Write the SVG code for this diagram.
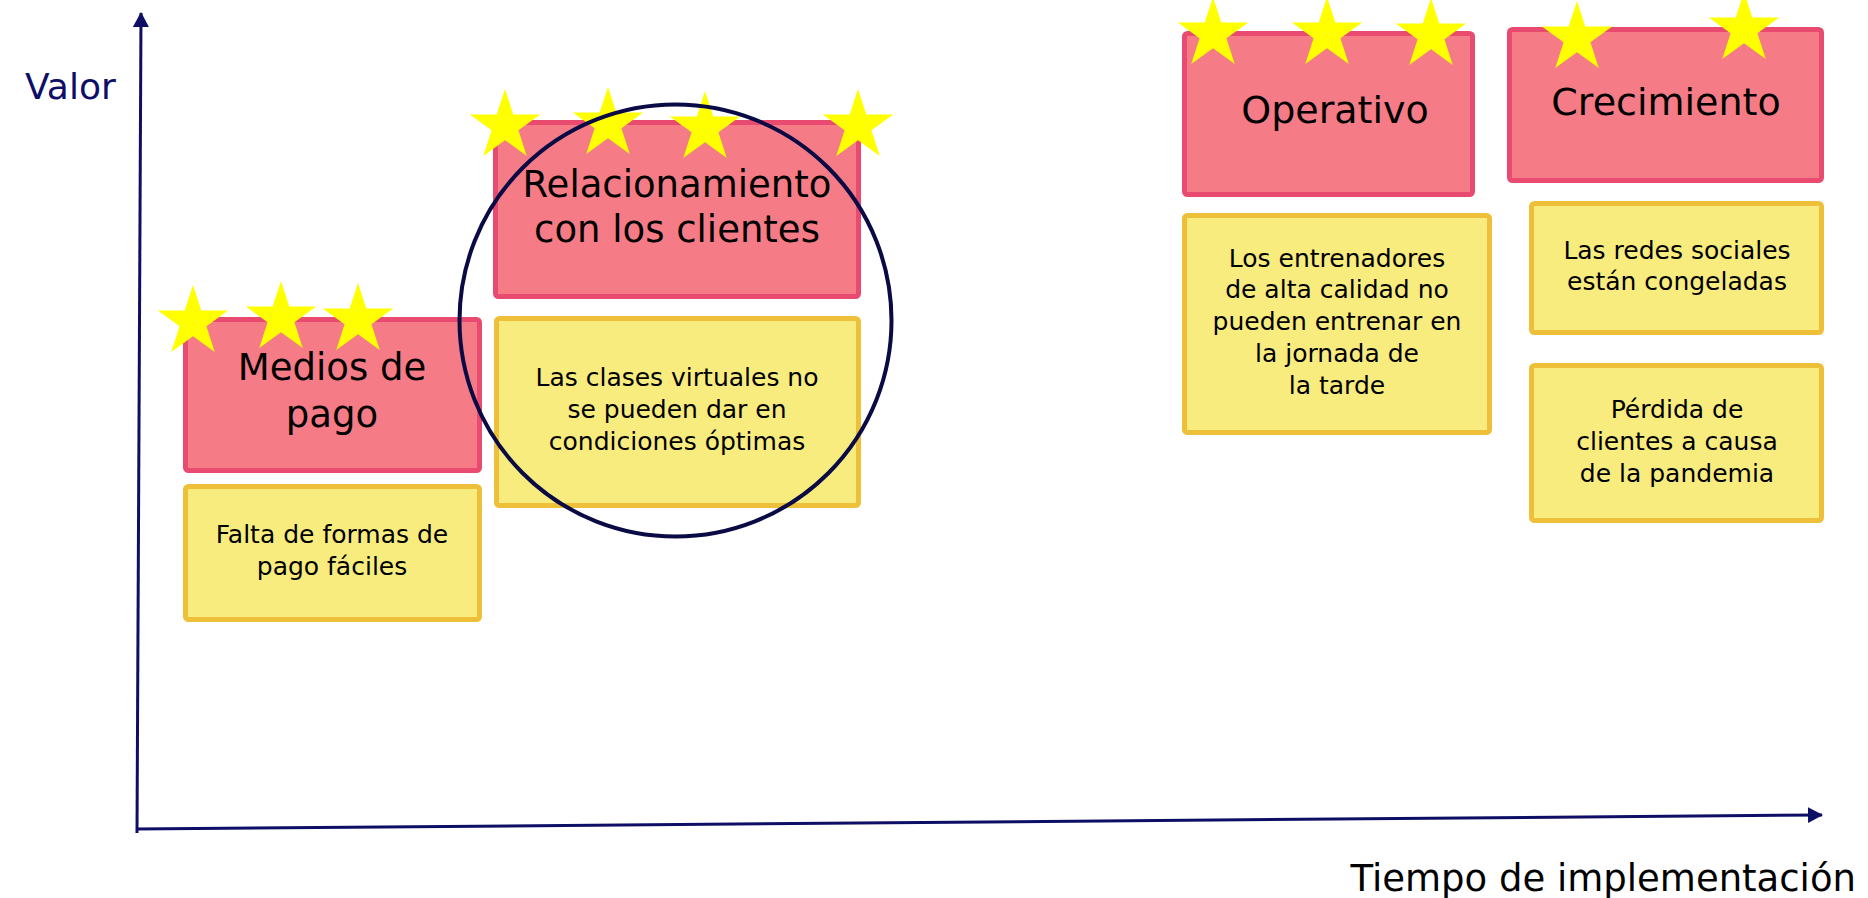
<svg xmlns="http://www.w3.org/2000/svg" xmlns:xlink="http://www.w3.org/1999/xlink" width="1868" height="898" viewBox="0 0 1868 898">
<style>
text{font-family:"DejaVu Sans","Liberation Sans",sans-serif;fill:#000;text-anchor:middle}
.pink{fill:#F57B86;stroke:#E94B70;stroke-width:5}
.yel{fill:#F8EC7E;stroke:#EEC03A;stroke-width:5}
.t{font-size:37px}
.s{font-size:25px}
.axis{stroke:#0E0E66;stroke-width:3;fill:none}
.star{fill:#FFFF00}
.axlab{font-size:36px;fill:#0E0E66;text-anchor:start}
</style>
<defs>
<marker id="arr" markerUnits="userSpaceOnUse" markerWidth="16" markerHeight="18" refX="14" refY="8" orient="auto">
<path d="M0,0 L15,8 L0,16 Z" fill="#0E0E66"/>
</marker>
<polygon id="star" class="star" points="0,-37 8.31,-11.43 35.19,-11.43 13.44,4.37 21.75,29.93 0,14.13 -21.75,29.93 -13.44,4.37 -35.19,-11.43 -8.31,-11.43"/>
</defs>
<rect width="1868" height="898" fill="#fff"/>
<g id="connectors">
<line class="axis" x1="137" y1="833" x2="141" y2="13" marker-end="url(#arr)"/>
<line class="axis" x1="136" y1="829" x2="1822" y2="815" marker-end="url(#arr)"/>
</g>
<text class="axlab" x="25" y="99">Valor</text>
<text x="1856" y="891" style="font-size:37px;text-anchor:end">Tiempo de implementación</text>
<g id="medios">
<rect class="pink" x="185.5" y="319.5" width="294" height="151" rx="3"/>
<text class="t" x="332" y="380">Medios de</text>
<text class="t" x="332" y="427">pago</text>
<use xlink:href="#star" href="#star" x="193" y="322"/>
<use xlink:href="#star" href="#star" x="281" y="318"/>
<use xlink:href="#star" href="#star" x="358" y="320"/>
</g>
<g id="falta">
<rect class="yel" x="185.5" y="486.5" width="294" height="133" rx="3"/>
<text class="s" x="332" y="543">Falta de formas de</text>
<text class="s" x="332" y="575">pago fáciles</text>
</g>
<g id="relacionamiento">
<rect class="pink" x="495.5" y="122.5" width="363" height="174" rx="3"/>
<text class="t" x="677" y="197">Relacionamiento</text>
<text class="t" x="677" y="242">con los clientes</text>
<use xlink:href="#star" href="#star" x="505" y="126"/>
<use xlink:href="#star" href="#star" x="608" y="124"/>
<use xlink:href="#star" href="#star" x="705" y="128"/>
<use xlink:href="#star" href="#star" x="858" y="126"/>
</g>
<g id="clases">
<rect class="yel" x="496.5" y="318.5" width="362" height="187" rx="3"/>
<text class="s" x="677" y="386">Las clases virtuales no</text>
<text class="s" x="677" y="418">se pueden dar en</text>
<text class="s" x="677" y="450">condiciones óptimas</text>
</g>
<g id="highlight">
<circle cx="675.5" cy="320.5" r="216" fill="none" stroke="#0A0A45" stroke-width="4"/>
</g>
<g id="operativo">
<rect class="pink" x="1184.5" y="33.5" width="288" height="161" rx="3"/>
<text class="t" x="1335" y="123" style="font-size:38px">Operativo</text>
<use xlink:href="#star" href="#star" x="1213" y="34"/>
<use xlink:href="#star" href="#star" x="1327" y="34"/>
<use xlink:href="#star" href="#star" x="1431" y="35"/>
</g>
<g id="entrenadores">
<rect class="yel" x="1184.5" y="215.5" width="305" height="217" rx="3"/>
<text class="s" x="1337" y="267">Los entrenadores</text>
<text class="s" x="1337" y="298">de alta calidad no</text>
<text class="s" x="1337" y="330">pueden entrenar en</text>
<text class="s" x="1337" y="362">la jornada de</text>
<text class="s" x="1337" y="394">la tarde</text>
</g>
<g id="crecimiento">
<rect class="pink" x="1509.5" y="29.5" width="312" height="151" rx="3"/>
<text class="t" x="1666" y="115" style="font-size:38px">Crecimiento</text>
<use xlink:href="#star" href="#star" x="1577" y="38"/>
<use xlink:href="#star" href="#star" x="1744" y="29"/>
</g>
<g id="redes">
<rect class="yel" x="1531.5" y="203.5" width="290" height="129" rx="3"/>
<text class="s" x="1677" y="259">Las redes sociales</text>
<text class="s" x="1677" y="290">están congeladas</text>
</g>
<g id="perdida">
<rect class="yel" x="1531.5" y="365.5" width="290" height="155" rx="3"/>
<text class="s" x="1677" y="418">Pérdida de</text>
<text class="s" x="1677" y="450">clientes a causa</text>
<text class="s" x="1677" y="482">de la pandemia</text>
</g>
</svg>
